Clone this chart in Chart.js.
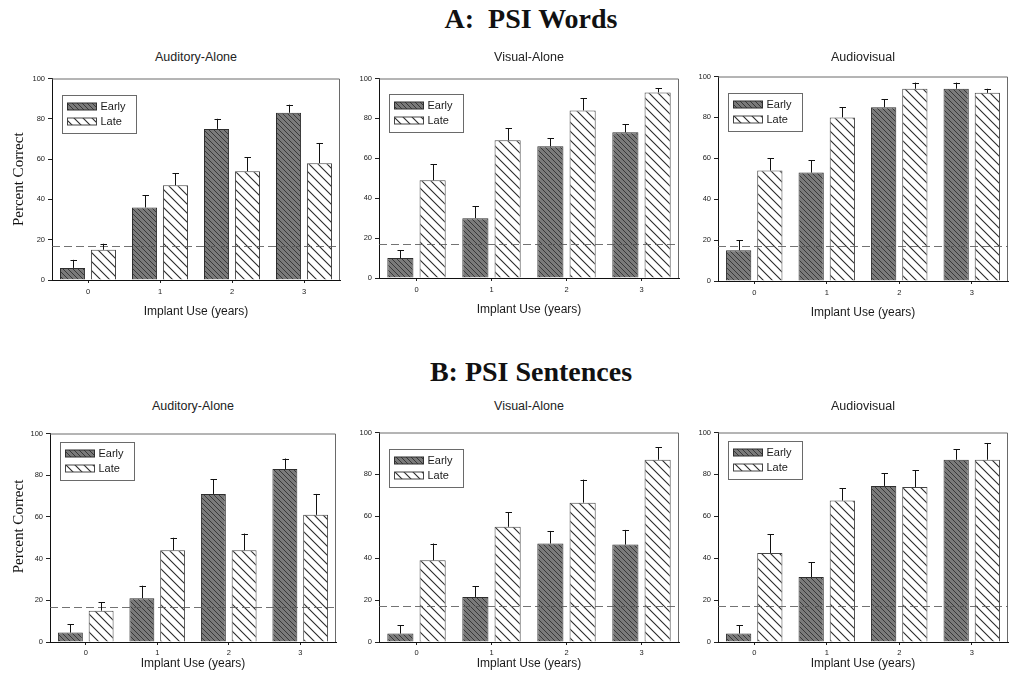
<!DOCTYPE html>
<html><head><meta charset="utf-8">
<script src="https://cdn.jsdelivr.net/npm/chart.js"></script>
<style>
html,body{margin:0;padding:0;background:#fff;}
body{width:1010px;height:688px;position:relative;overflow:hidden;font-family:"Liberation Sans",Arial,sans-serif;}
.panel{position:absolute;}
.t{position:absolute;text-align:center;white-space:pre;color:#111;}
.main{font-family:"Liberation Serif","Times New Roman",serif;font-weight:bold;font-size:28px;line-height:30px;height:30px;}
.sub{font-size:12.5px;line-height:16px;height:16px;color:#222;}
</style></head><body>
<script>
// ---------------- DATA ----------------
const categories = ['0', '1', '2', '3'];
const yTickValues = [0, 20, 40, 60, 80, 100];
const chanceLevel = 17;
const seriesNames = ['Early', 'Late'];
const sectionTitles = ['A:  PSI Words', 'B: PSI Sentences'];
const conditionTitles = ['Auditory-Alone', 'Visual-Alone', 'Audiovisual'];
const xAxisTitle = 'Implant Use (years)';
const yAxisTitle = 'Percent Correct';

// A: PSI Words
const wordsAudEarly = [6, 36, 75, 83];
const wordsAudEarlyErr = [4, 6, 5, 4];
const wordsAudLate = [15, 47, 54, 58];
const wordsAudLateErr = [3, 6, 7, 10];
const wordsVisEarly = [10, 30, 66, 73];
const wordsVisEarlyErr = [4, 6, 4, 4];
const wordsVisLate = [49, 69, 84, 93];
const wordsVisLateErr = [8, 6, 6, 2];
const wordsAvEarly = [15, 53, 85, 94];
const wordsAvEarlyErr = [5, 6, 4, 3];
const wordsAvLate = [54, 80, 94, 92];
const wordsAvLateErr = [6, 5, 3, 2];

// B: PSI Sentences
const sentAudEarly = [4.5, 21, 71, 83];
const sentAudEarlyErr = [4, 6, 7, 5];
const sentAudLate = [15, 44, 44, 61];
const sentAudLateErr = [4, 6, 8, 10];
const sentVisEarly = [4, 21.5, 47, 46.5];
const sentVisEarlyErr = [4, 5, 6, 7];
const sentVisLate = [39, 55, 66.5, 87];
const sentVisLateErr = [8, 7, 11, 6];
const sentAvEarly = [4, 31, 74.5, 87];
const sentAvEarlyErr = [4, 7, 6, 5];
const sentAvLate = [42.5, 67.5, 74, 87];
const sentAvLateErr = [9, 6, 8, 8];

// ---------------- LAYOUT / STYLE ----------------
const SANS = '"Liberation Sans", Arial, sans-serif';
const SERIF = '"Liberation Serif", "Times New Roman", serif';

const panels = [
  {early: wordsAudEarly, earlyErr: wordsAudEarlyErr, late: wordsAudLate, lateErr: wordsAudLateErr, cond: 0,
   L: 52, T: 77, R: 340, B: 280, xh: 40, tickPad: 4, legY: 16, yTitle: true, yTitleShift: 0, titleY: 57},
  {early: wordsVisEarly, earlyErr: wordsVisEarlyErr, late: wordsVisLate, lateErr: wordsVisLateErr, cond: 1,
   L: 379, T: 77, R: 679, B: 278, xh: 40, tickPad: 4, legY: 15, yTitle: false, yTitleShift: 0, titleY: 57},
  {early: wordsAvEarly, earlyErr: wordsAvEarlyErr, late: wordsAvLate, lateErr: wordsAvLateErr, cond: 2,
   L: 718, T: 75, R: 1008, B: 281, xh: 40, tickPad: 4, legY: 16, yTitle: false, yTitleShift: 0, titleY: 57},
  {early: sentAudEarly, earlyErr: sentAudEarlyErr, late: sentAudLate, lateErr: sentAudLateErr, cond: 0,
   L: 50, T: 432, R: 336, B: 642, xh: 30, tickPad: 3, legY: 8, yTitle: true, yTitleShift: 6, titleY: 406},
  {early: sentVisEarly, earlyErr: sentVisEarlyErr, late: sentVisLate, lateErr: sentVisLateErr, cond: 1,
   L: 379, T: 431, R: 679, B: 642, xh: 30, tickPad: 3, legY: 16, yTitle: false, yTitleShift: 0, titleY: 406},
  {early: sentAvEarly, earlyErr: sentAvEarlyErr, late: sentAvLate, lateErr: sentAvLateErr, cond: 2,
   L: 718, T: 431, R: 1008, B: 642, xh: 30, tickPad: 3, legY: 8, yTitle: false, yTitleShift: 0, titleY: 406},
];
const mainTitleY = [19, 372];
const mainTitleX = 531;

function makePattern(size, bg, fg, lw) {
  const c = document.createElement('canvas');
  c.width = size; c.height = size;
  const g = c.getContext('2d');
  g.fillStyle = bg; g.fillRect(0, 0, size, size);
  g.strokeStyle = fg; g.lineWidth = lw;
  g.beginPath();
  g.moveTo(-1, -1); g.lineTo(size + 1, size + 1);
  g.moveTo(-1, size - 1); g.lineTo(1, size + 1);
  g.moveTo(size - 1, -1); g.lineTo(size + 1, 1);
  g.stroke();
  return g.createPattern(c, 'repeat');
}
const earlyPattern = makePattern(5, '#7a7a7a', '#383838', 1);
const latePattern = makePattern(9, '#ffffff', '#2a2a2a', 1.1);

// ---------------- TITLES (text) ----------------
function addText(cls, txt, cx, cy, w, h) {
  const d = document.createElement('div');
  d.className = 't ' + cls;
  d.textContent = txt;
  d.style.left = (cx - w / 2) + 'px';
  d.style.width = w + 'px';
  d.style.top = (cy - h / 2) + 'px';
  document.body.appendChild(d);
}
addText('main', sectionTitles[0], mainTitleX, mainTitleY[0], 400, 30);
addText('main', sectionTitles[1], mainTitleX, mainTitleY[1], 400, 30);

// ---------------- PLUGINS ----------------
const panelDecor = {
  id: 'panelDecor',
  beforeDatasetsDraw(chart) {
    const {ctx, chartArea: a} = chart;
    ctx.save();
    ctx.strokeStyle = '#6a6a6a'; ctx.lineWidth = 1;
    ctx.beginPath();
    ctx.moveTo(a.left, a.top + 0.5); ctx.lineTo(a.right - 0.5, a.top + 0.5);
    ctx.lineTo(a.right - 0.5, a.bottom);
    ctx.stroke();
    ctx.restore();
  },
  afterDatasetsDraw(chart) {
    const {ctx, chartArea: a, scales} = chart;
    ctx.save();
    // chance line
    const yc = Math.round(scales.y.getPixelForValue(chanceLevel)) + 0.5;
    ctx.strokeStyle = 'rgba(90,90,90,0.85)'; ctx.lineWidth = 1;
    ctx.setLineDash([8, 4]);
    ctx.beginPath(); ctx.moveTo(a.left, yc); ctx.lineTo(a.right, yc); ctx.stroke();
    ctx.setLineDash([]);
    // error bars
    ctx.strokeStyle = '#111'; ctx.lineWidth = 1;
    chart.data.datasets.forEach((ds, i) => {
      const meta = chart.getDatasetMeta(i);
      meta.data.forEach((el, j) => {
        const v = ds.data[j], e = ds.errors[j];
        const yTop = scales.y.getPixelForValue(v + e);
        const x = Math.round(el.x) + 0.5;
        ctx.beginPath();
        ctx.moveTo(x, el.y); ctx.lineTo(x, yTop);
        ctx.moveTo(x - 3, Math.round(yTop) + 0.5); ctx.lineTo(x + 3.5, Math.round(yTop) + 0.5);
        ctx.stroke();
      });
    });
    // legend
    const o = chart.options.plugins.panelDecor;
    const lx = Math.round(a.left + 10) + 0.5, ly = Math.round(a.top + o.legY) + 0.5, w = 74, h = 38;
    ctx.fillStyle = '#fff'; ctx.fillRect(lx, ly, w, h);
    ctx.strokeStyle = '#6a6a6a'; ctx.strokeRect(lx, ly, w, h);
    chart.data.datasets.forEach((ds, i) => {
      const cy = ly + 11 + i * 15;
      ctx.fillStyle = ds.backgroundColor; ctx.fillRect(lx + 5, cy - 3.5, 29, 7);
      ctx.strokeStyle = ds.borderColor; ctx.strokeRect(lx + 5, cy - 3.5, 29, 7);
      ctx.fillStyle = '#1a1a1a'; ctx.font = '11px ' + SANS; ctx.textBaseline = 'middle';
      ctx.fillText(ds.label, lx + 38, cy + 0.5);
    });
    ctx.restore();
  }
};

// ---------------- CHARTS ----------------
panels.forEach((p) => {
  const yw = p.yTitle ? p.L : 40;
  const pt = 6, pr = 2;
  const left = p.L - yw, top = p.T - pt;
  const width = p.R - p.L + yw + pr, height = p.B - p.T + pt + p.xh;
  const div = document.createElement('div');
  div.className = 'panel';
  div.style.left = left + 'px'; div.style.top = top + 'px';
  div.style.width = width + 'px'; div.style.height = height + 'px';
  const cv = document.createElement('canvas');
  cv.width = width; cv.height = height;
  div.appendChild(cv);
  document.body.appendChild(div);

  addText('sub', conditionTitles[p.cond], (p.L + p.R) / 2, p.titleY, 200, 16);

  new Chart(cv.getContext('2d'), {
    type: 'bar',
    data: {
      labels: categories,
      datasets: [
        {label: seriesNames[0], data: p.early, errors: p.earlyErr, backgroundColor: earlyPattern,
         borderColor: '#2e2e2e', borderWidth: 1},
        {label: seriesNames[1], data: p.late, errors: p.lateErr, backgroundColor: latePattern,
         borderColor: '#444', borderWidth: 1}
      ]
    },
    options: {
      responsive: false,
      animation: false,
      devicePixelRatio: 1,
      layout: {padding: {top: pt, right: pr, left: 0, bottom: 0}},
      datasets: {bar: {categoryPercentage: 0.86, barPercentage: 0.81}},
      plugins: {
        legend: {display: false},
        tooltip: {enabled: false},
        title: {display: false},
        panelDecor: {legY: p.legY}
      },
      scales: {
        x: {
          type: 'category',
          offset: true,
          grid: {display: true, drawOnChartArea: false, drawTicks: true, tickLength: 3, color: '#222', offset: false},
          border: {display: true, color: '#111', width: 1},
          ticks: {font: {size: 7.5, family: SANS}, color: '#222', padding: p.tickPad, maxRotation: 0, autoSkip: false},
          title: {display: true, text: xAxisTitle, font: {size: 12, family: SANS}, color: '#1a1a1a', padding: {top: 0, bottom: 1}},
          afterFit(s) { s.height = p.xh; }
        },
        y: {
          min: 0, max: 100,
          afterBuildTicks(s) { s.ticks = yTickValues.map(v => ({value: v})); },
          grid: {display: true, drawOnChartArea: false, drawTicks: true, tickLength: 4, color: '#222'},
          border: {display: true, color: '#111', width: 1},
          ticks: {font: {size: 7.5, family: SANS}, color: '#222', padding: 3},
          title: {display: p.yTitle, text: '\u00a0'.repeat(p.yTitleShift) + yAxisTitle, font: {size: 15, family: SERIF}, color: '#111', padding: {top: 10, bottom: 0}},
          afterFit(s) { s.width = yw; }
        }
      }
    },
    plugins: [panelDecor]
  });
});
</script>
</body></html>
